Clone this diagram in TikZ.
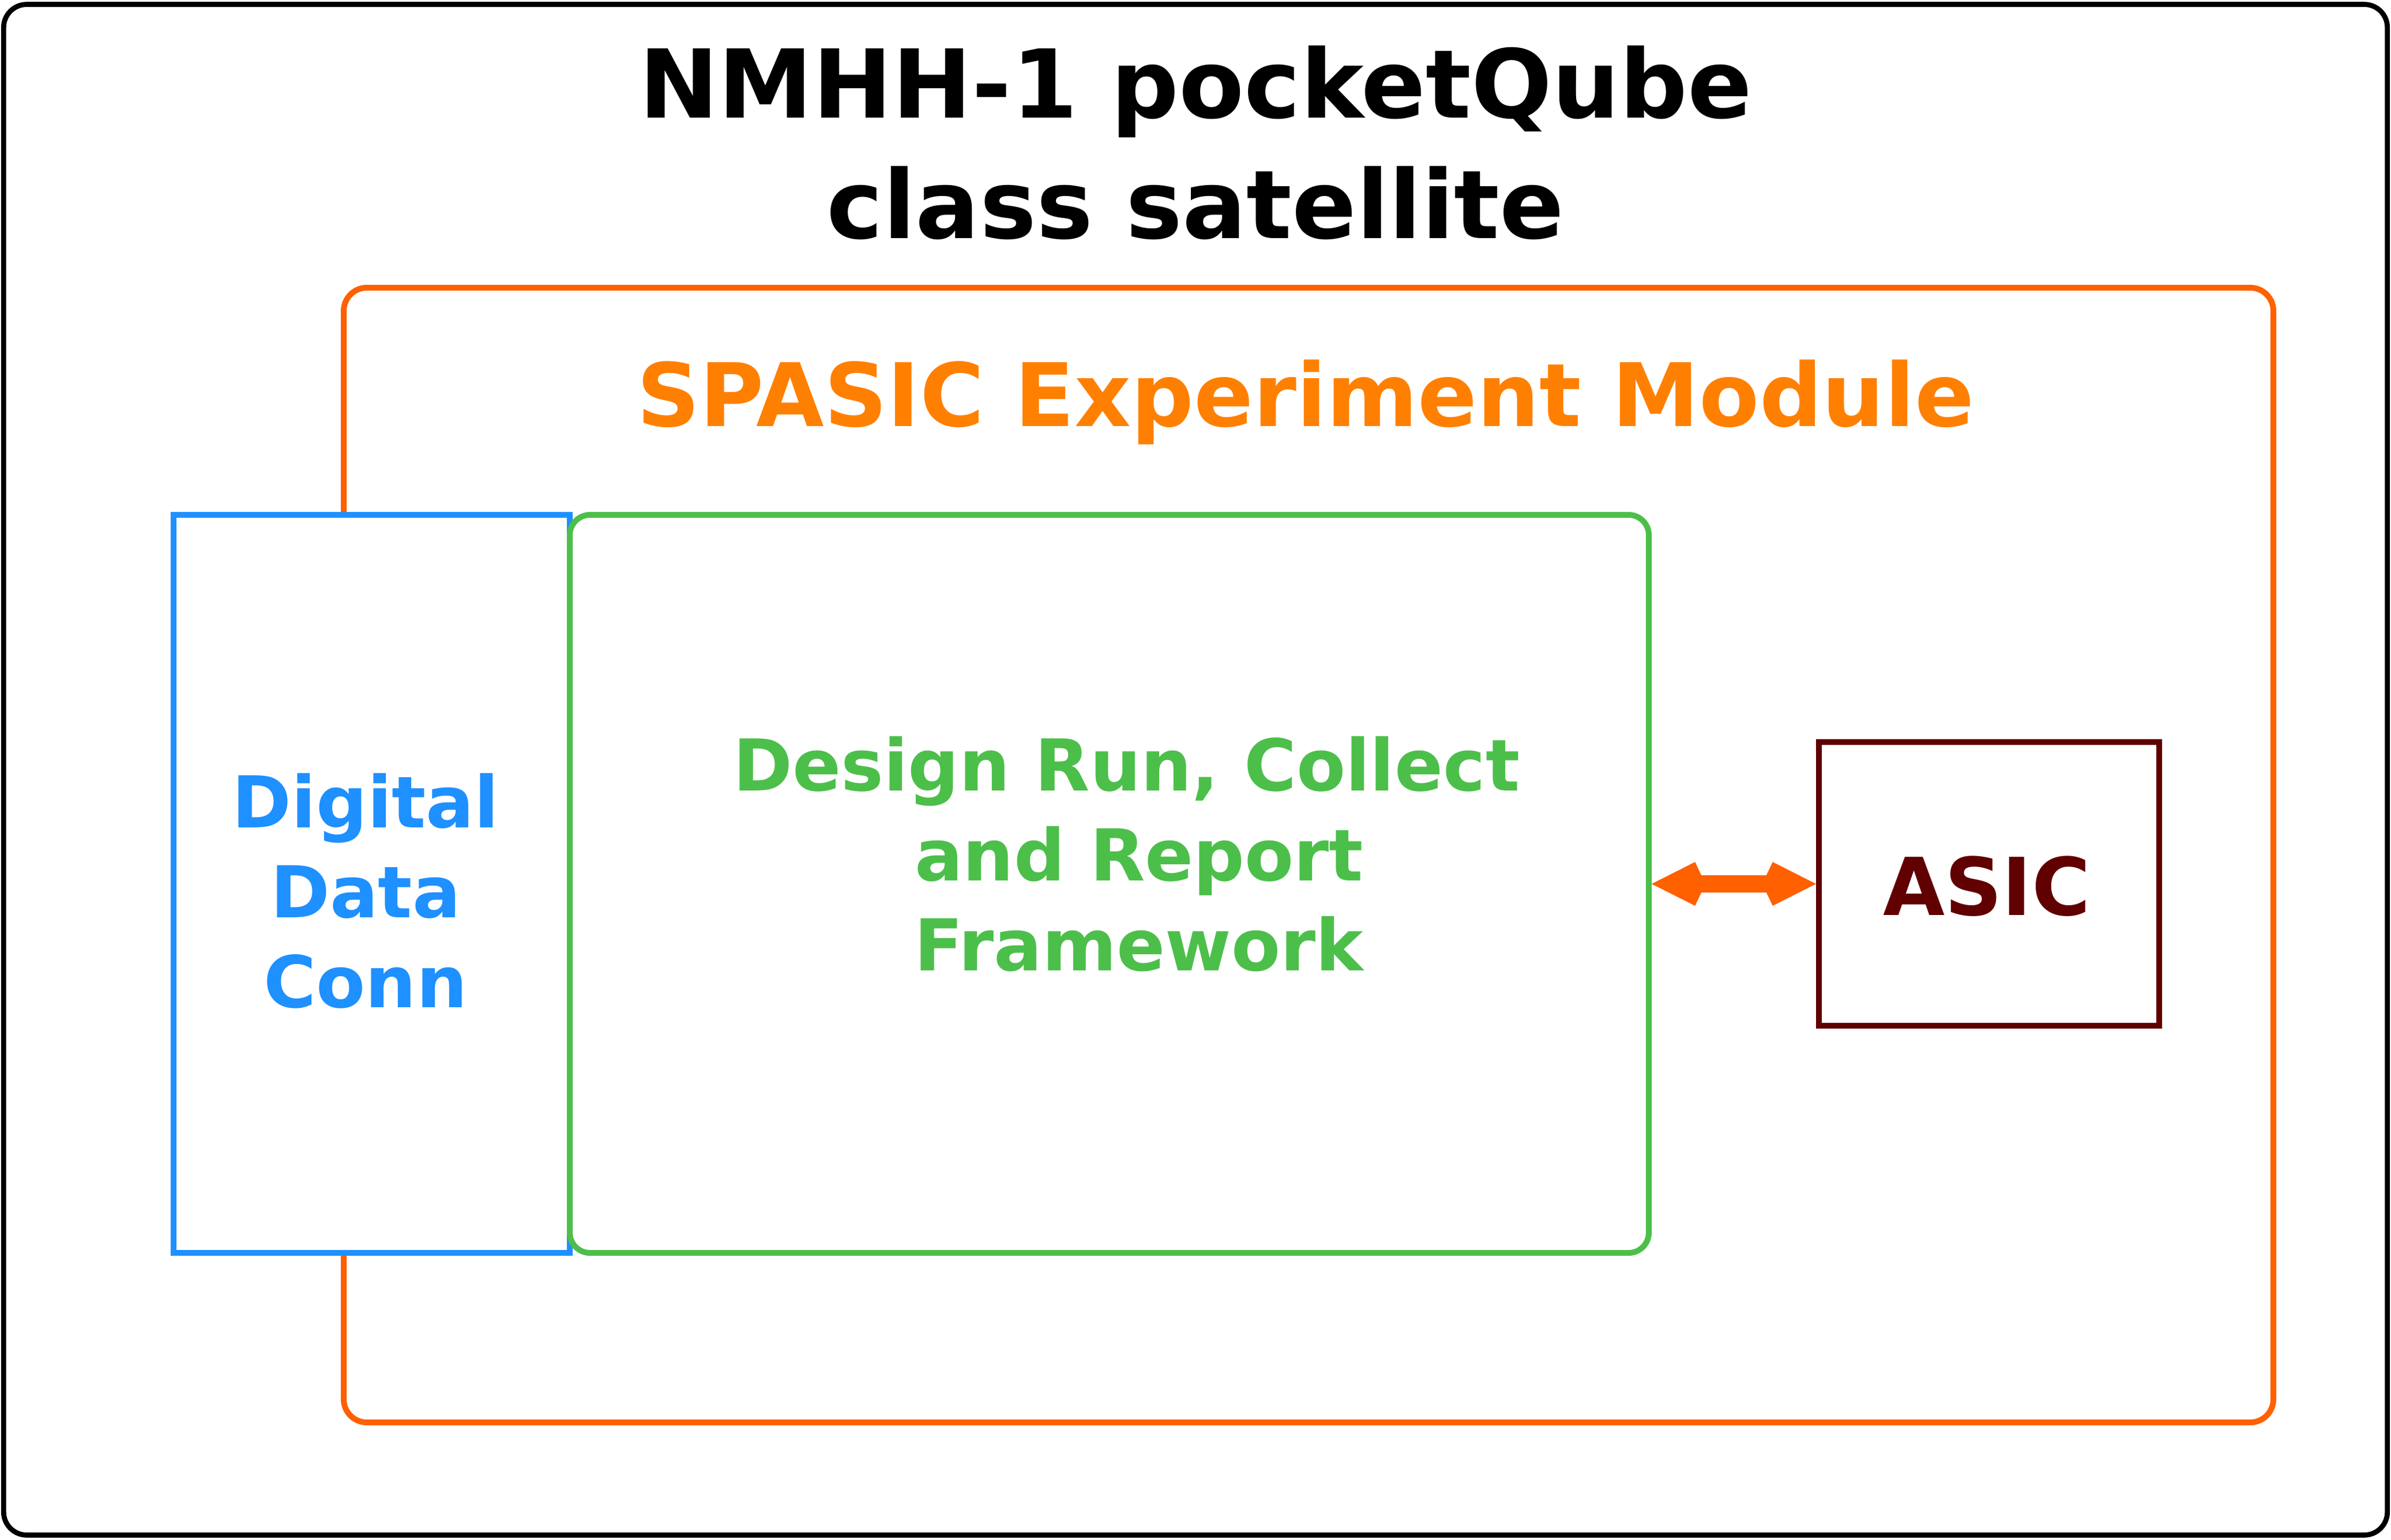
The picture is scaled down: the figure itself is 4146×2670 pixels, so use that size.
\documentclass[tikz,border=0pt]{standalone}
\usepackage{fontspec}
\setmainfont{DejaVu Sans}
\usetikzlibrary{arrows.meta}
\definecolor{boxorange}{HTML}{FF6000}
\definecolor{txtorange}{HTML}{FF8000}
\definecolor{ddblue}{HTML}{1E90FF}
\definecolor{dgreen}{HTML}{4CBF4A}
\definecolor{asicred}{HTML}{600000}
\begin{document}
\begin{tikzpicture}[x=0.25pt,y=-0.25pt,
  boxbase/.style={rectangle, inner sep=0pt, line width=2.5pt},
  lbl/.style={inner sep=0pt, align=center, anchor=base}]
\useasboundingbox (0,0) rectangle (4146,2670);
\node[boxbase, draw=black, line width=2.2pt, rounded corners=10pt, minimum width=1033.35pt, minimum height=663.7pt] (sat) at (2073,1335) {};
\node[boxbase, draw=boxorange, rounded corners=10pt, minimum width=836.5pt, minimum height=492pt] (mod) at (2269,1483) {};
\node[boxbase, draw=ddblue, fill=white, minimum width=171.75pt, minimum height=320pt] (conn) at (644.5,1533) {};
\node[boxbase, draw=dgreen, fill=white, rounded corners=8.75pt, minimum width=467.75pt, minimum height=320pt] (frame) at (1923.5,1533) {};
\node[boxbase, draw=asicred, minimum width=147.5pt, minimum height=123pt] (asic) at (3449,1533) {};
\draw[boxorange, line width=7.5pt, {Kite[length=23.3pt,width=19pt,inset=4.5pt]}-{Kite[length=23.3pt,width=19pt,inset=4.5pt]}] (frame.east) -- (asic.west);
\node[lbl, font=\bfseries\fontsize{41.2pt}{52.25pt}\selectfont] (title) at (2073,413) {NMHH-1 pocketQube\\class satellite};
\node[lbl, text=txtorange, font=\bfseries\fontsize{38pt}{45pt}\selectfont] (modlbl) at (2264,739.5) {SPASIC Experiment Module};
\node[lbl, text=ddblue, font=\bfseries\fontsize{31pt}{39pt}\selectfont] (connlbl) at (634,1747) {Digital\\Data\\Conn};
\node[lbl, text=dgreen, font=\bfseries\fontsize{31pt}{39pt}\selectfont] (framelbl) at (1975,1683) {Design Run, Collect\kern0.35em\\and Report\\Framework};
\node[lbl, text=asicred, font=\bfseries\fontsize{34.6pt}{40pt}\selectfont] (asiclbl) at (3445,1587) {ASIC};
\end{tikzpicture}
\end{document}
